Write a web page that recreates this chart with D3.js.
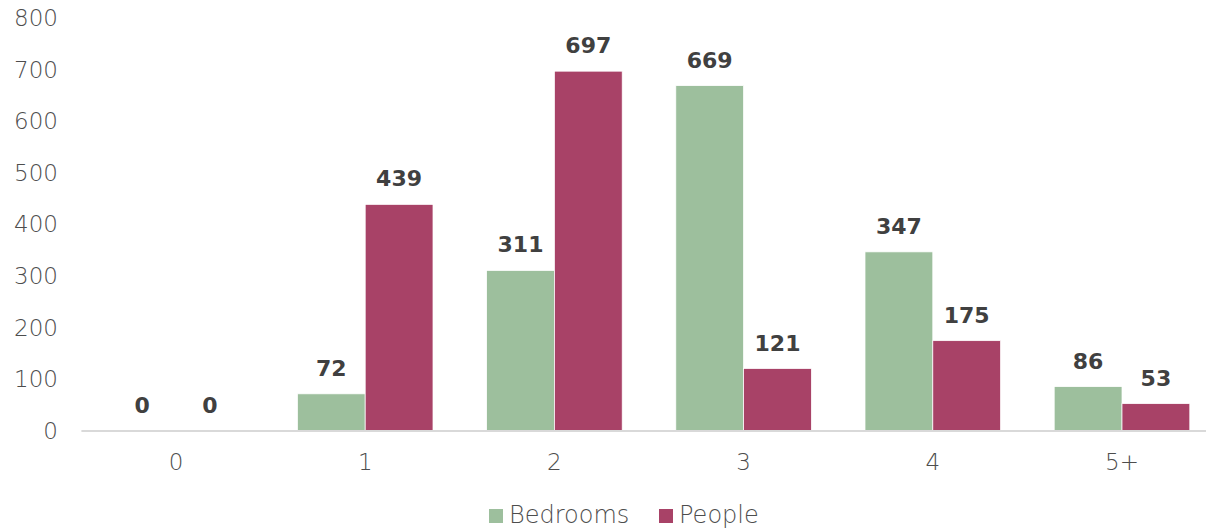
<!DOCTYPE html>
<html>
<head>
<meta charset="utf-8">
<script src="https://cdn.jsdelivr.net/npm/d3@7"></script>
<style>
  html, body { margin: 0; padding: 0; background: #fff; }
  svg { display: block; }
</style>
</head>
<body>
<svg id="chart" width="1206" height="528"></svg>
<script>
// Household size categories and counts per series
const categories = ["0", "1", "2", "3", "4", "5+"];
const seriesNames = ["Bedrooms", "People"];
const bedrooms = [0, 72, 311, 669, 347, 86];
const people = [0, 439, 697, 121, 175, 53];
const yTicks = [0, 100, 200, 300, 400, 500, 600, 700, 800];

const colors = { Bedrooms: "#9dbf9d", People: "#a84267" };
const values = { Bedrooms: bedrooms, People: people };

const svg = d3.select("#chart");

const x0 = d3.scaleBand()
  .domain(categories)
  .range([81.4, 1216.6])
  .paddingInner(0.2833)
  .paddingOuter(0.14165);

const x1 = d3.scaleBand()
  .domain(seriesNames)
  .range([0, x0.bandwidth()])
  .padding(0);

const y = d3.scaleLinear().domain([0, 800]).range([431, 18]);

const font = "'DejaVu Sans', sans-serif";
const lightColor = "#4d4d4d";

// Y axis tick labels (no line, no tick marks)
const yAxis = d3.axisLeft(y).tickValues(yTicks).tickSize(0).tickPadding(0);
const gy = svg.append("g").attr("transform", "translate(58,0)").call(yAxis);
gy.select(".domain").remove();
gy.selectAll("text")
  .attr("fill", lightColor)
  .style("font-family", font)
  .style("font-size", "23px")
  .style("font-weight", "200");

// Bars
const groups = svg.append("g").selectAll("g")
  .data(categories)
  .join("g")
  .attr("transform", d => `translate(${x0(d)},0)`);

groups.selectAll("rect")
  .data((c, i) => seriesNames.map(s => ({ s, v: values[s][i] })))
  .join("rect")
  .attr("x", d => x1(d.s))
  .attr("y", d => y(d.v))
  .attr("width", x1.bandwidth())
  .attr("height", d => y(0) - y(d.v))
  .attr("fill", d => colors[d.s])
  .attr("stroke", "#ffffff")
  .attr("stroke-width", 0.75);

// X axis baseline and category labels
const xAxis = d3.axisBottom(x0).tickSize(0).tickPadding(0);
const gx = svg.append("g").attr("transform", `translate(0,${y(0)})`).call(xAxis);
gx.select(".domain").attr("stroke", "#d9d9d9").attr("stroke-width", 2)
  .attr("d", `M${x0.range()[0]},0H${x0.range()[1]}`);
gx.selectAll("text")
  .attr("y", 39)
  .attr("dy", 0)
  .attr("fill", lightColor)
  .style("font-family", font)
  .style("font-size", "23px")
  .style("font-weight", "200");

// Value labels above bars
groups.selectAll("text.val")
  .data((c, i) => seriesNames.map(s => ({ s, v: values[s][i] })))
  .join("text")
  .attr("class", "val")
  .attr("x", d => x1(d.s) + x1.bandwidth() / 2)
  .attr("y", d => y(d.v) - 18)
  .attr("text-anchor", "middle")
  .attr("fill", "#404040")
  .style("font-family", font)
  .style("font-size", "22px")
  .style("font-weight", "bold")
  .text(d => d.v);

// Legend
const legendItems = [
  { name: "Bedrooms", x: 489 },
  { name: "People", x: 659 }
];
const lg = svg.append("g");
lg.selectAll("rect")
  .data(legendItems)
  .join("rect")
  .attr("x", d => d.x)
  .attr("y", 509)
  .attr("width", 14)
  .attr("height", 14)
  .attr("fill", d => colors[d.name]);
lg.selectAll("text")
  .data(legendItems)
  .join("text")
  .attr("x", d => d.x + 20)
  .attr("y", 523)
  .attr("fill", lightColor)
  .style("font-family", font)
  .style("font-size", "24px")
  .style("font-weight", "200")
  .text(d => d.name);
</script>
</body>
</html>
